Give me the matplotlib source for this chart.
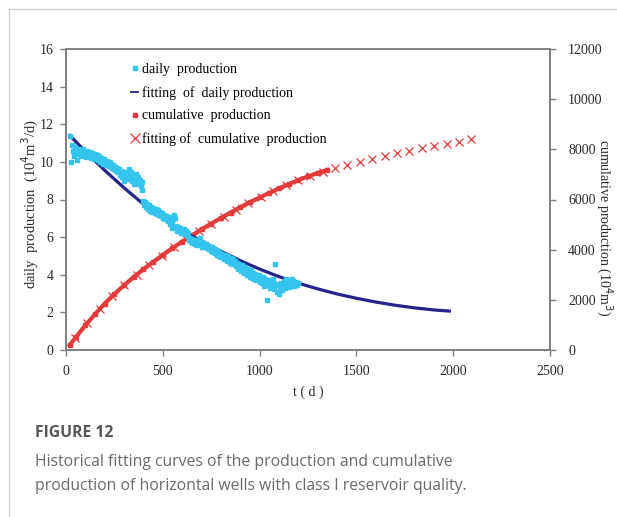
import numpy as np
import matplotlib
matplotlib.use("Agg")
import matplotlib.pyplot as plt
from matplotlib.lines import Line2D

# Datos
dias = np.arange(20, 1201, 5)
produccion_diaria = [
    11.4, 10.0, 10.9, 10.6, 10.3, 10.8, 10.5, 10.1, 10.7, 10.4,
    10.6, 10.3, 10.55, 10.4, 10.7, 10.35, 10.5, 10.25, 10.6, 10.4,
    10.3, 10.5, 10.2, 10.45, 10.3, 10.15, 10.4, 10.2, 10.35, 10.1,
    10.3, 10.0, 10.2, 10.1, 9.9, 10.15, 10.0, 9.85, 10.05, 9.9,
    9.8, 10.0, 9.75, 9.9, 9.65, 9.85, 9.6, 9.75, 9.5, 9.7,
    9.45, 9.6, 9.3, 9.5, 9.2, 9.35, 9.0, 9.25, 9.45, 9.1,
    9.3, 9.6, 9.2, 9.45, 9.0, 9.3, 8.8, 9.1, 9.35, 8.95,
    9.2, 8.85, 9.05, 8.7, 8.95, 8.5, 7.9, 7.7, 7.85, 7.6,
    7.75, 7.5, 7.7, 7.4, 7.6, 7.35, 7.55, 7.4, 7.3, 7.5,
    7.25, 7.45, 7.2, 7.35, 7.1, 7.3, 7.0, 7.2, 6.95, 7.1,
    7.0, 6.85, 7.05, 6.7, 6.9, 6.5, 6.75, 6.95, 7.15, 7.0,
    6.6, 6.35, 6.55, 6.3, 6.5, 6.2, 6.4, 6.3, 6.45, 6.15,
    6.3, 6.05, 6.2, 5.85, 5.95, 5.75, 5.9, 5.7, 5.85, 5.65,
    5.8, 5.6, 5.85, 5.7, 5.95, 5.6, 5.75, 5.5, 5.7, 5.55,
    5.45, 5.65, 5.4, 5.55, 5.35, 5.5, 5.25, 5.45, 5.2, 5.35,
    5.15, 5.3, 5.05, 5.25, 5.0, 5.15, 4.95, 5.1, 5.0, 4.85,
    5.05, 4.9, 4.75, 5.0, 4.8, 4.65, 4.9, 4.7, 4.55, 4.85,
    4.6, 4.75, 4.45, 4.65, 4.3, 4.55, 4.4, 4.2, 4.5, 4.3,
    4.1, 4.4, 4.2, 4.0, 4.3, 4.1, 3.9, 4.25, 3.85, 4.1,
    3.8, 4.05, 3.7, 3.95, 3.75, 4.0, 3.6, 3.85, 3.55, 3.9,
    3.65, 3.4, 3.8, 3.5, 2.65, 3.7, 3.45, 3.3, 3.6, 3.4,
    3.75, 3.25, 4.55, 3.5, 3.1, 3.45, 3.0, 3.35, 3.55, 3.2,
    3.4, 3.65, 3.3, 3.8, 3.5, 3.7, 3.35, 3.6, 3.45, 3.75,
    3.5, 3.65, 3.4, 3.55, 3.6, 3.45, 3.55,
]

ajuste_t = [20, 100, 200, 300, 400, 500, 600, 700, 800, 900, 1000,
            1100, 1200, 1300, 1400, 1500, 1600, 1700, 1800, 1900, 1980]
ajuste_diario = [11.4, 10.55, 9.55, 8.62, 7.75, 7.0, 6.35, 5.78, 5.25, 4.75, 4.3,
                 3.9, 3.55, 3.25, 2.98, 2.75, 2.55, 2.38, 2.24, 2.13, 2.07]

acum_t = [20, 50, 100, 150, 200, 250, 300, 350, 400, 450, 500, 550, 600, 650,
          700, 750, 800, 850, 900, 950, 1000, 1050, 1100, 1150, 1200, 1250, 1300, 1350]
acumulada = [200, 500, 980, 1430, 1850, 2230, 2580, 2910, 3220, 3510, 3790, 4060,
             4320, 4570, 4810, 5040, 5260, 5480, 5690, 5890, 6080, 6260, 6440, 6610,
             6780, 6920, 7060, 7180]

ajuste_acum_t = [46, 110, 174, 238, 302, 366, 430, 494, 558, 622, 686, 750, 814, 878,
                 942, 1006, 1070, 1134, 1198, 1262, 1326, 1390, 1454, 1518, 1582, 1646,
                 1710, 1774, 1838, 1902, 1966, 2030, 2094]
ajuste_acum = [460, 1070, 1640, 2140, 2590, 3000, 3380, 3740, 4100, 4430, 4750, 5040,
               5320, 5600, 5860, 6110, 6340, 6560, 6780, 6950, 7110, 7250, 7380, 7510,
               7630, 7740, 7850, 7950, 8040, 8130, 8220, 8310, 8400]

cian = "#35c4ee"
azul = "#24248a"
rojo = "#e23b3b"
gris = "#808080"
texto = "#2a2a2a"

plt.rcParams["font.family"] = ["Liberation Serif", "DejaVu Serif"]

fig = plt.figure(figsize=(6.17, 5.17), dpi=100)

# Marco de la tarjeta
fig.add_artist(Line2D([9 / 617, 9 / 617], [0, 1 - 9 / 517], color="#d0d0d0", lw=1))
fig.add_artist(Line2D([9 / 617, 1], [1 - 9 / 517, 1 - 9 / 517], color="#d0d0d0", lw=1))

ax = fig.add_axes([66 / 617, 1 - 350 / 517, 484 / 617, 301 / 517])
ax2 = ax.twinx()

ax.plot(ajuste_t, ajuste_diario, color=azul, lw=2.3, zorder=2)
ax2.plot(acum_t, acumulada, color=rojo, lw=3, marker="s", ms=2.2, zorder=2)
ax2.plot(ajuste_acum_t, ajuste_acum, ls="none", marker="x", ms=5.5, mew=0.9,
         color=rojo, zorder=3)
ax.set_zorder(ax2.get_zorder() + 1)
ax.patch.set_visible(False)
ax.plot(dias, produccion_diaria, ls="none", marker="s", ms=2.3, color=cian, zorder=4)

ax.set_xlim(0, 2500)
ax.set_ylim(0, 16)
ax2.set_ylim(0, 12000)
ax.set_xticks(np.arange(0, 2501, 500))
ax.set_yticks(np.arange(0, 17, 2))
ax2.set_yticks(np.arange(0, 12001, 2000))

for a in (ax, ax2):
    for s in a.spines.values():
        s.set_color(gris)
        s.set_linewidth(1.2)
    a.tick_params(colors=gris, labelcolor=texto, labelsize=10, length=4, width=1)
ax.tick_params(axis="x", pad=7)
ax.tick_params(axis="y", pad=5)
ax2.tick_params(axis="y", pad=9)

ax.set_xlabel("t ( d )", fontsize=10, color=texto, labelpad=5)

# Titulos de los ejes verticales
fig.text(30 / 617, 1 - 204 / 517, "daily  production  (10$^4$m$^3$/d)", fontsize=10.5,
         color=texto, rotation=90, ha="center", va="center")
fig.text(604 / 617, 1 - 228 / 517, "cumulative production (10$^4$m$^3$)", fontsize=10,
         color=texto, rotation=270, ha="center", va="center")

handles = [
    Line2D([], [], ls="none", marker="s", ms=2.2, color=cian),
    Line2D([], [], color=azul, lw=1.3),
    Line2D([], [], ls="none", marker="s", ms=2.2, color=rojo),
    Line2D([], [], ls="none", marker="x", ms=6.5, mew=0.9, color=rojo),
]
etiquetas = ["daily  production", "fitting  of  daily production",
             "cumulative  production", "fitting of  cumulative  production"]
ax.legend(handles, etiquetas, loc="upper left", bbox_to_anchor=(0.115, 0.985),
          frameon=False, fontsize=10, handlelength=0.5, handletextpad=0.3,
          labelspacing=0.7, borderaxespad=0.3)

# Pie de figura
fig.text(35 / 617, 1 - 433 / 517, "FIGURE 12", fontsize=11.3, fontweight="bold",
         color="#555555", family="Open Sans", va="center")
fig.text(35 / 617, 1 - 474 / 517,
         "Historical fitting curves of the production and cumulative\n"
         "production of horizontal wells with class I reservoir quality.",
         fontsize=11.3, color="#6a6a6a", family="Open Sans", va="center",
         linespacing=1.6)

fig.savefig("out.png", dpi=100)
